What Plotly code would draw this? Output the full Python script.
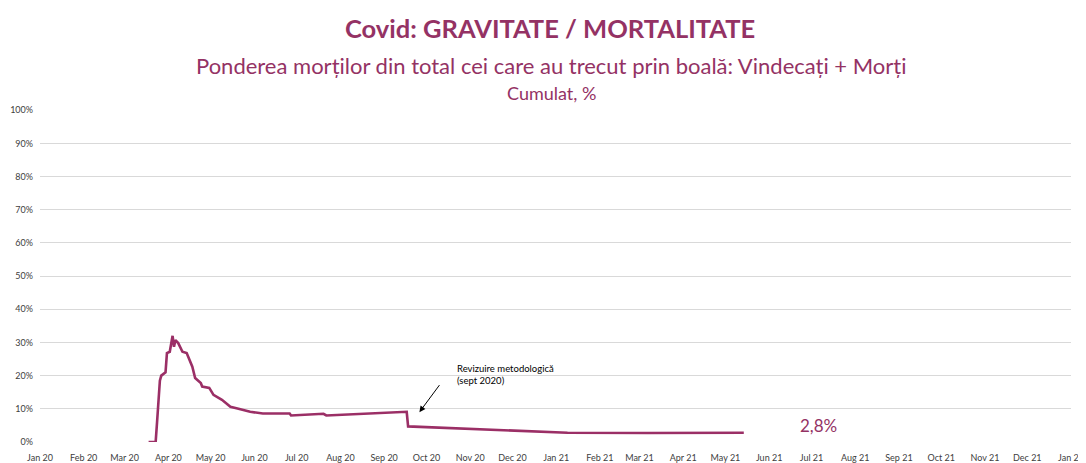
import plotly.graph_objects as go

# Data
dates = [
    "2020-03-18", "2020-03-23", "2020-03-24", "2020-03-26", "2020-03-27", "2020-03-30",
    "2020-03-31", "2020-04-02", "2020-04-04", "2020-04-05", "2020-04-06", "2020-04-08",
    "2020-04-11", "2020-04-14", "2020-04-18", "2020-04-20", "2020-04-24", "2020-04-25",
    "2020-04-30", "2020-05-03", "2020-05-09", "2020-05-15", "2020-05-20", "2020-05-29",
    "2020-06-07", "2020-06-26", "2020-06-27", "2020-07-20", "2020-07-22", "2020-08-17",
    "2020-09-10", "2020-09-16", "2020-09-17", "2020-09-18", "2020-10-16", "2020-11-14",
    "2020-12-12", "2021-01-09", "2021-03-07", "2021-05-14",
]
pondere = [
    0.000, 0.000, 0.060, 0.185, 0.200, 0.210,
    0.268, 0.272, 0.320, 0.287, 0.307, 0.298,
    0.272, 0.268, 0.227, 0.193, 0.178, 0.167,
    0.163, 0.142, 0.127, 0.106, 0.101, 0.091,
    0.086, 0.086, 0.080, 0.085, 0.080, 0.085,
    0.089, 0.092, 0.091, 0.047, 0.042, 0.037,
    0.031, 0.028, 0.027, 0.028,
]

y_ticks = [0, 0.1, 0.2, 0.3, 0.4, 0.5, 0.6, 0.7, 0.8, 0.9, 1.0]

title = "Covid: GRAVITATE / MORTALITATE"
subtitle = "Ponderea morților din total cei care au trecut prin boală: Vindecați + Morți"
subtitle2 = "Cumulat, %"
note_text = "Revizuire metodologică<br>(sept 2020)"
last_label = "2,8%"

MAROON = "#943264"
LINE = "#9b2f66"
FONT = "Lato"

fig = go.Figure()
fig.add_trace(go.Scatter(
    x=dates, y=pondere, mode="lines",
    line=dict(color=LINE, width=2.6),
    hoverinfo="x+y", showlegend=False,
))

# the page body adds an 8px margin, so the figure is sized to fit the window
fig.update_layout(
    width=1078, height=455,
    margin=dict(l=32, r=15, t=102, b=21),
    paper_bgcolor="white", plot_bgcolor="white",
    font=dict(family=FONT, color="#595959", size=9),
    xaxis=dict(
        type="date",
        range=["2020-01-01", "2022-01-01"],
        tick0="2020-01-01", dtick="M1",
        tickformat="%b %y",
        showgrid=False, zeroline=False, showline=False,
        ticks="", ticklabelstandoff=9, automargin=False,
        ticklabeloverflow="allow",
        tickfont=dict(size=9, color="#404040"),
    ),
    yaxis=dict(
        range=[0, 1.0005],
        tickvals=y_ticks,
        tickformat=".0%",
        showgrid=True, gridcolor="#d9d9d9", gridwidth=1,
        zeroline=False, showline=False,
        ticks="", ticklabelstandoff=6, automargin=False,
        tickfont=dict(size=9, color="#404040"),
    ),
    annotations=[
        dict(text="<b>" + title + "</b>", xref="paper", yref="paper",
             x=0.4942, y=1.0, xanchor="center", yanchor="middle",
             yshift=82, showarrow=False,
             font=dict(family=FONT, size=25.5, color=MAROON)),
        dict(text=subtitle, xref="paper", yref="paper",
             x=0.496, y=1.0, xanchor="center", yanchor="middle",
             yshift=45, showarrow=False,
             font=dict(family=FONT, size=22, color=MAROON)),
        dict(text=subtitle2, xref="paper", yref="paper",
             x=0.496, y=1.0, xanchor="center", yanchor="middle",
             yshift=17, showarrow=False,
             font=dict(family=FONT, size=18, color=MAROON)),
        dict(text=note_text, x="2020-10-21", y=0.204, xref="x", yref="y",
             xanchor="left", yanchor="middle", align="left", showarrow=False,
             font=dict(family=FONT, size=9.5, color="#000000")),
        dict(text="", x="2020-09-26", y=0.090, xref="x", yref="y",
             ax="2020-10-11", ay=0.176, axref="x", ayref="y",
             showarrow=True, arrowhead=2, arrowsize=1.2, arrowwidth=1,
             arrowcolor="#000000"),
        dict(text=last_label, x="2021-07-06", y=0.05, xref="x", yref="y",
             xanchor="center", yanchor="middle", showarrow=False,
             font=dict(family=FONT, size=17, color=MAROON)),
    ],
)

fig.write_html("out.html")
